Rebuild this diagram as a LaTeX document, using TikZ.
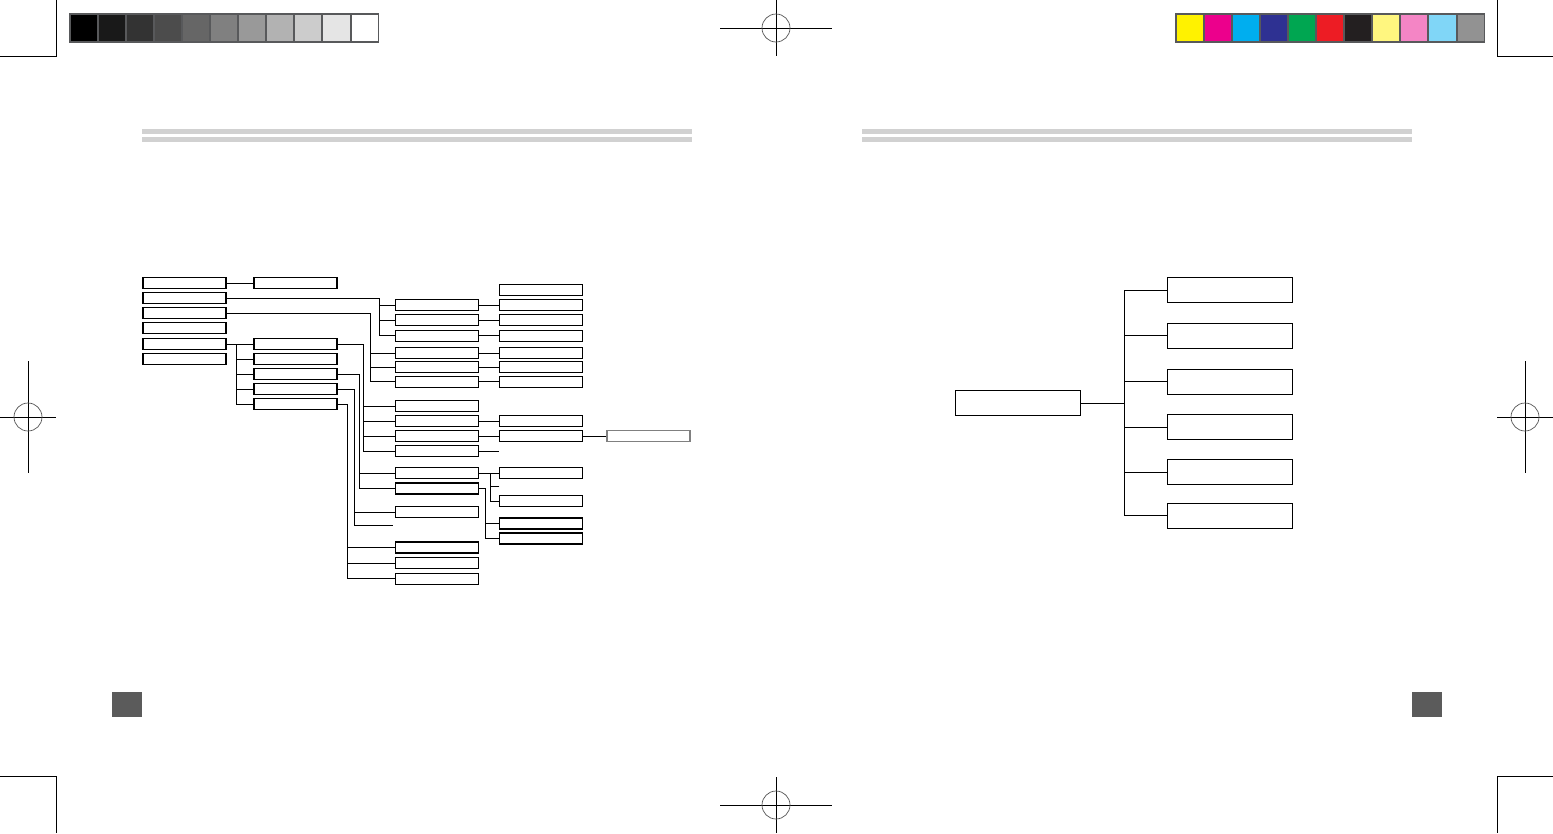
\documentclass[tikz,border=0pt]{standalone}
\usepackage{tikz}
\definecolor{barframe}{HTML}{58595B}
\definecolor{rulegray}{HTML}{D1D1D1}
\definecolor{folio}{HTML}{5B5B5B}
\definecolor{regring}{HTML}{555555}
\definecolor{pY}{HTML}{FFF200}
\definecolor{pM}{HTML}{EC008C}
\definecolor{pC}{HTML}{00AEEF}
\definecolor{pB}{HTML}{2E3192}
\definecolor{pG}{HTML}{00A651}
\definecolor{pR}{HTML}{ED1C24}
\definecolor{pK}{HTML}{231F20}
\definecolor{pLY}{HTML}{FFF67F}
\definecolor{pLM}{HTML}{F485C5}
\definecolor{pLC}{HTML}{80D6F7}
\definecolor{pGr}{HTML}{929292}

\begin{document}
\begin{tikzpicture}[x=1pt, y=-1pt,
  box/.style={draw, line width=1.1pt, inner sep=0pt,
    minimum width=83pt, minimum height=11pt},
  endbox/.style={box, draw=black!50, line width=1.6pt},
  bigbox/.style={box, minimum width=124.5pt, minimum height=25pt},
  link/.style={line width=1pt},
  crop/.style={line width=0.9pt}]
  \useasboundingbox (0,0) rectangle (1553,833);
  % crop marks
  \draw[crop] (56,0) -- (56,56) -- (0,56);
  \draw[crop] (1497,0) -- (1497,56) -- (1553,56);
  \draw[crop] (0,776) -- (56,776) -- (56,833);
  \draw[crop] (1553,776) -- (1497,776) -- (1497,833);
  % registration marks
  \foreach \cx/\cy/\hw/\vh in {776/28/56/28, 776/805/56/28,
      28/417/28/56, 1525/417/28/56} {
    \draw[crop] (\cx-\hw,\cy) -- (\cx+\hw,\cy);
    \draw[crop] (\cx,\cy-\vh) -- (\cx,\cy+\vh);
    \draw[regring, line width=0.7pt] (\cx,\cy) circle (14);
  }
  % grey scale bar
  \fill[barframe] (69,13.3) rectangle (379,42.7);
  \foreach \g [count=\i from 0] in {100,90,...,0}
    \fill[black!\g] ({70.5+28.1*\i},15.3) rectangle ++(26.1,25.4);
  % colour bar
  \fill[barframe] (1175,13.3) rectangle (1485,42.7);
  \foreach \c [count=\i from 0] in {pY,pM,pC,pB,pG,pR,pK,pLY,pLM,pLC,pGr}
    \fill[\c] ({1176.5+28.1*\i},15.3) rectangle ++(26.1,25.4);
  % header rules
  \foreach \x in {142,862} {
    \fill[rulegray] (\x,129) rectangle ++(550,4.7);
    \fill[rulegray] (\x,137) rectangle ++(550,4.7);
  }
  % page number boxes
  \fill[folio] (112,692) rectangle (142,717);
  \fill[folio] (1412,692) rectangle (1442,717);

  % left page: first column
  \foreach \i/\y in {1/283.3,2/298.3,3/313.3,4/328.3,5/344,6/359}
    \node[box] (a\i) at (184.5,\y) {};
  % second column
  \foreach \i/\y in {1/283.3,2/344,3/359.3,4/374.3,5/389.3,6/404.3}
    \node[box] (b\i) at (295.5,\y) {};
  % third column
  \foreach \i/\y in {1/305,2/320,3/335.8,4/353.3,5/367.4,6/381.8,
      7/406.2,8/421,9/436,10/451.2,11/473.3,12/488.5,13/512,
      14/547.5,15/563,16/578.7}
    \node[box] (c\i) at (436.8,\y) {};
  % fourth column
  \foreach \i/\y in {0/289.7,1/305,2/320,3/335.8,4/353.3,5/367.4,
      6/381.8,7/421,8/436,9/473.3,10/501.3,11/523.5,12/538.5}
    \node[box] (d\i) at (541.3,\y) {};
  \node[endbox] (e1) at (648.3,436) {};

  % junctions and loose ends
  \coordinate (ja2) at (379.3,298.3);
  \coordinate (ja3) at (370.7,313.3);
  \coordinate (ja5) at (236.7,344);
  \coordinate (jb2) at (363.3,344);
  \coordinate (jb4) at (359,374.3);
  \coordinate (jb5) at (354.3,389.3);
  \coordinate (jb6) at (347.3,404.3);
  \coordinate (jc11) at (490,473.3);
  \coordinate (jc12) at (485.7,488.5);
  \coordinate (s1) at (499.3,451.2);
  \coordinate (s2) at (393.3,525);
  \coordinate (s3) at (499.3,486.7);

  % connectors
  \draw[link] (a1.east) -- (b1.west);
  \draw[link] (a2.east) -- (ja2) |- (c3.west);
  \foreach \n in {c1,c2}
    \draw[link] (\n.west) -- (\n.west -| ja2);
  \draw[link] (a3.east) -- (ja3) |- (c6.west);
  \foreach \n in {c4,c5}
    \draw[link] (\n.west) -- (\n.west -| ja3);
  \draw[link] (a5.east) -- (b2.west);
  \draw[link] (ja5) |- (b6.west);
  \foreach \n in {b3,b4,b5}
    \draw[link] (\n.west) -- (\n.west -| ja5);
  \draw[link] (b2.east) -- (jb2) |- (c10.west);
  \foreach \n in {c7,c8,c9}
    \draw[link] (\n.west) -- (\n.west -| jb2);
  \draw[link] (b4.east) -- (jb4) |- (c12.west);
  \draw[link] (c11.west) -- (c11.west -| jb4);
  \draw[link] (b5.east) -- (jb5) |- (s2);
  \draw[link] (c13.west) -- (c13.west -| jb5);
  \draw[link] (b6.east) -- (jb6) |- (c16.west);
  \foreach \n in {c14,c15}
    \draw[link] (\n.west) -- (\n.west -| jb6);
  \foreach \i in {1,...,6}
    \draw[link] (c\i.east) -- (d\i.west);
  \draw[link] (c8.east) -- (d7.west);
  \draw[link] (c9.east) -- (d8.west);
  \draw[link] (d8.east) -- (e1.west);
  \draw[link] (c10.east) -- (s1);
  \draw[link] (c11.east) -- (d9.west);
  \draw[link] (jc11) |- (d10.west);
  \draw[link] (s3) -- (s3 -| jc11);
  \draw[link] (c12.east) -- (jc12) |- (d12.west);
  \draw[link] (d11.west) -- (d11.west -| jc12);

  % right page
  \node[bigbox] (r0) at (1017.8,403.3) {};
  \foreach \i/\y in {1/290.3,2/335.8,3/381.8,4/427.3,5/472.3,6/515.8}
    \node[bigbox, minimum width=125pt] (r\i) at (1230.3,\y) {};
  \coordinate (jr) at (1124.3,403.3);
  \draw[link] (r0.east) -- (jr);
  \draw[link] (r1.west) -| (jr);
  \draw[link] (r6.west) -| (jr);
  \foreach \n in {r2,r3,r4,r5}
    \draw[link] (\n.west) -- (\n.west -| jr);
\end{tikzpicture}
\end{document}
